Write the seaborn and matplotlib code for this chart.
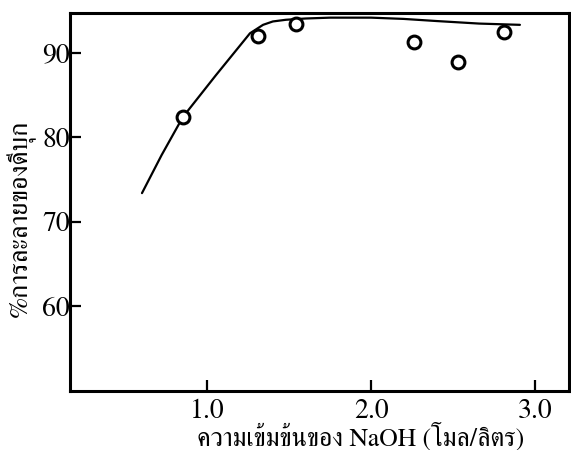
import matplotlib
matplotlib.use("Agg")
import matplotlib.pyplot as plt
import seaborn as sns
import pandas as pd

# Measured tin dissolution vs NaOH concentration
naoh_conc = [0.85, 1.31, 1.54, 2.26, 2.53, 2.81]
dissolved_pct = [82.4, 92.0, 93.4, 91.3, 88.9, 92.4]

# Hand-fitted trend curve through the measurements
curve_conc = [0.60, 0.72, 0.85, 1.05, 1.26, 1.34, 1.40, 1.48, 1.60, 1.75,
              2.00, 2.20, 2.40, 2.66, 2.91]
curve_pct = [73.4, 77.9, 82.4, 87.3, 92.3, 93.3, 93.7, 93.9, 94.05, 94.15,
             94.15, 94.0, 93.75, 93.45, 93.3]

x_ticks = [1.0, 2.0, 3.0]
x_tick_labels = ["1.0", "2.0", "3.0"]
y_ticks = [60, 70, 80, 90]
y_tick_labels = ["60", "70", "80", "90"]

x_title = "ความเข้มข้นของ NaOH (โมล/ลิตร)"
y_title = "%การละลายของดีบุก"

sns.set_theme(style="ticks")
plt.rcParams["font.family"] = ["FreeSerif", "Liberation Serif", "DejaVu Serif"]
plt.rcParams["text.color"] = "black"
plt.rcParams["axes.labelcolor"] = "black"
plt.rcParams["xtick.color"] = "black"
plt.rcParams["ytick.color"] = "black"

fig = plt.figure(figsize=(5.71, 4.5), dpi=100)
ax = fig.add_axes([70 / 571, 1 - 391 / 450, 499 / 571, 378 / 450])

curve = pd.DataFrame({"conc": curve_conc, "pct": curve_pct})
points = pd.DataFrame({"conc": naoh_conc, "pct": dissolved_pct})

sns.lineplot(data=curve, x="conc", y="pct", ax=ax, color="black",
             linewidth=1.6, sort=False, estimator=None)
sns.scatterplot(data=points, x="conc", y="pct", ax=ax, marker="o", s=85,
                facecolor="white", edgecolor="black", linewidth=2.2, zorder=3)

ax.set_xlim(0.16, 3.21)
ax.set_ylim(50, 94.7)
ax.set_xticks(x_ticks, x_tick_labels)
ax.set_yticks(y_ticks, y_tick_labels)

for side in ["left", "right", "top", "bottom"]:
    ax.spines[side].set_visible(True)
    ax.spines[side].set_linewidth(2.2)
    ax.spines[side].set_color("black")

ax.tick_params(axis="both", direction="in", length=8, width=1.6,
               labelsize=20)
ax.tick_params(axis="y", pad=0)
ax.tick_params(axis="x", pad=6)

ax.set_xlabel(x_title, fontsize=18.5)
ax.set_ylabel(y_title, fontsize=19)
ax.xaxis.set_label_coords(0.583, -0.083)
ax.yaxis.set_label_coords(-0.068, 0.456)

fig.savefig("out.png", dpi=100, facecolor="white")
